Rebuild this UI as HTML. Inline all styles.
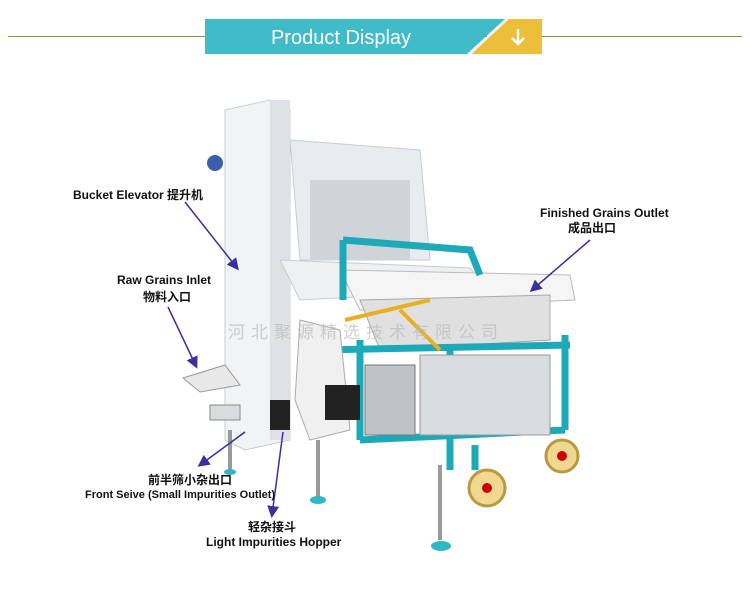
<!DOCTYPE html>
<html><head><meta charset="utf-8"><style>
body{margin:0;width:750px;height:592px;background:#fff;overflow:hidden;position:relative;font-family:"Liberation Sans","Noto Sans CJK SC",sans-serif}
.l{position:absolute;font-weight:bold;font-size:12px;line-height:14px;color:#111;white-space:nowrap}
</style></head><body>
<div style="position:absolute;left:8px;top:36px;width:734px;height:1px;background:#7a9a3a"></div>
<svg style="position:absolute;left:0;top:0" width="750" height="592">
<polygon points="205,19 505,19 467,54 205,54" fill="#40bcc8"/>
<polygon points="509,19 542,19 542,54 471,54" fill="#ecbe3a"/>
<line x1="508" y1="18" x2="469" y2="55" stroke="#fff" stroke-width="2"/>
<text x="341" y="44" font-family="Liberation Sans" font-size="20" fill="#fff" text-anchor="middle">Product Display</text>
<path d="M518 29 v15 M512 38 l6 6 l6-6" stroke="#fff" stroke-width="2.5" fill="none"/>
<polygon points="290,140 420,150 430,260 300,260" fill="#e9ecef" stroke="#c8ccd0"/>
<rect x="310" y="180" width="100" height="80" fill="#cfd4d8"/>
<polygon points="225,110 270,100 290,110 290,440 245,450 225,440" fill="#f2f3f4" stroke="#c9cdd1"/>
<rect x="270" y="100" width="20" height="340" fill="#dfe2e5"/>
<circle cx="215" cy="163" r="8" fill="#3a5fa8"/>
<polygon points="280,260 470,268 490,290 300,300" fill="#eef0f1" stroke="#c8ccd0"/>
<polygon points="340,270 570,275 575,300 360,310" fill="#f5f5f5" stroke="#bbb"/>
<polygon points="360,300 550,295 550,340 380,350" fill="#e0e0e0" stroke="#aaa"/>
<g stroke="#1ea9b8" stroke-width="7" fill="none">
<polyline points="343,240 470,250 480,275"/>
<line x1="343" y1="240" x2="343" y2="300"/>
<line x1="320" y1="350" x2="570" y2="345"/>
<line x1="360" y1="340" x2="360" y2="440"/>
<line x1="450" y1="350" x2="450" y2="470"/>
<line x1="565" y1="335" x2="565" y2="430"/>
<line x1="360" y1="440" x2="565" y2="430"/>
<line x1="475" y1="445" x2="475" y2="470"/>
</g>
<rect x="420" y="355" width="130" height="80" fill="#d8dcdf" stroke="#999"/>
<rect x="365" y="365" width="50" height="70" fill="#bfc3c6" stroke="#777"/>
<polygon points="300,320 340,330 350,430 310,440 295,400" fill="#f0f0f0" stroke="#aaa"/>
<rect x="325" y="385" width="35" height="35" fill="#222"/>
<rect x="270" y="400" width="20" height="30" fill="#222"/>
<polygon points="183,378 225,365 240,385 200,392" fill="#e8e8e8" stroke="#999"/>
<rect x="210" y="405" width="30" height="15" fill="#d9dcdf" stroke="#888"/>
<g stroke="#999" stroke-width="4"><line x1="230" y1="430" x2="230" y2="470"/><line x1="318" y1="440" x2="318" y2="498"/><line x1="440" y1="465" x2="440" y2="540"/></g>
<g fill="#2eb8c4"><ellipse cx="230" cy="472" rx="6" ry="3"/><ellipse cx="318" cy="500" rx="8" ry="4"/><ellipse cx="441" cy="546" rx="10" ry="5"/></g>
<circle cx="487" cy="488" r="18" fill="#f0d890" stroke="#b89a40" stroke-width="3"/><circle cx="487" cy="488" r="5" fill="#c00"/>
<circle cx="562" cy="456" r="16" fill="#f0d890" stroke="#b89a40" stroke-width="3"/><circle cx="562" cy="456" r="5" fill="#c00"/>
<g stroke="#e8b020" stroke-width="4"><line x1="345" y1="320" x2="430" y2="300"/><line x1="400" y1="310" x2="440" y2="350"/></g>
<text x="228" y="338" font-family="Noto Sans CJK SC" font-size="17" fill="#bbb" opacity="0.7" letter-spacing="6">河北聚源精选技术有限公司</text>
<defs><marker id="a" markerWidth="8" markerHeight="8" refX="6" refY="4" orient="auto"><path d="M0,0 L8,4 L0,8z" fill="#3a2fa0"/></marker></defs>
<g stroke="#3a2fa0" stroke-width="1.5" marker-end="url(#a)">
<line x1="185" y1="202" x2="237" y2="268"/>
<line x1="168" y1="307" x2="196" y2="366"/>
<line x1="590" y1="240" x2="532" y2="290"/>
<line x1="245" y1="432" x2="200" y2="465"/>
<line x1="283" y1="432" x2="272" y2="515"/>
</g>
</svg>
<div class="l" style="left:73px;top:188px">Bucket Elevator 提升机</div>
<div class="l" style="left:117px;top:273px">Raw Grains Inlet</div>
<div class="l" style="left:143px;top:290px">物料入口</div>
<div class="l" style="left:540px;top:206px">Finished Grains Outlet</div>
<div class="l" style="left:568px;top:221px">成品出口</div>
<div class="l" style="left:148px;top:473px">前半筛小杂出口</div>
<div class="l" style="left:85px;top:488px;font-size:11px">Front Seive (Small Impurities Outlet)</div>
<div class="l" style="left:248px;top:520px">轻杂接斗</div>
<div class="l" style="left:206px;top:535px">Light Impurities Hopper</div>
</body></html>
